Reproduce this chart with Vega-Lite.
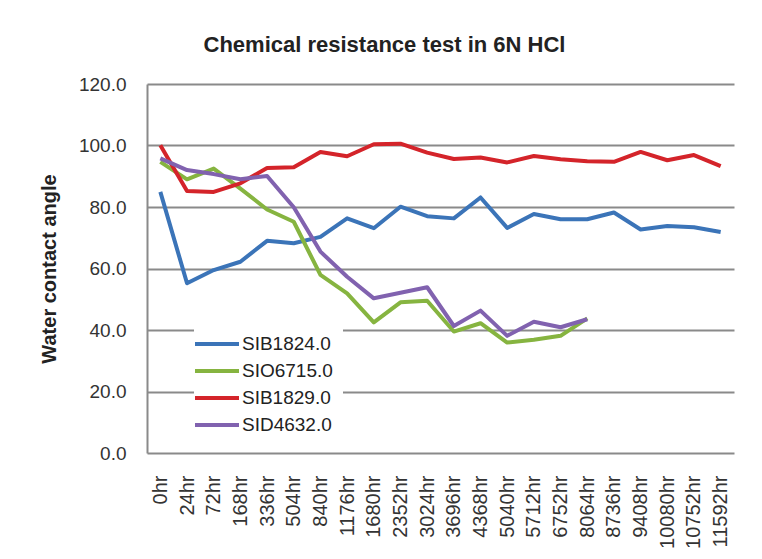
{
  "$schema": "https://vega.github.io/schema/vega-lite/v6.json",
  "autosize": {"type": "none"},
  "padding": {"left": 147, "top": 84, "right": 28, "bottom": 106},
  "width": 587,
  "height": 369,
  "background": "white",
  "title": {
    "text": "Chemical resistance test in 6N HCl",
    "font": "Liberation Sans",
    "fontSize": 22,
    "fontWeight": "bold",
    "color": "#222222",
    "anchor": "middle",
    "dx": -56,
    "offset": 18
  },
  "data": {
    "values": [
      {"t": "0hr", "s": "SIB1824.0", "v": 84.9},
      {"t": "24hr", "s": "SIB1824.0", "v": 55.2},
      {"t": "72hr", "s": "SIB1824.0", "v": 59.5},
      {"t": "168hr", "s": "SIB1824.0", "v": 62.2},
      {"t": "336hr", "s": "SIB1824.0", "v": 69.0},
      {"t": "504hr", "s": "SIB1824.0", "v": 68.2},
      {"t": "840hr", "s": "SIB1824.0", "v": 70.3},
      {"t": "1176hr", "s": "SIB1824.0", "v": 76.3},
      {"t": "1680hr", "s": "SIB1824.0", "v": 73.1},
      {"t": "2352hr", "s": "SIB1824.0", "v": 80.1},
      {"t": "3024hr", "s": "SIB1824.0", "v": 77.0},
      {"t": "3696hr", "s": "SIB1824.0", "v": 76.3},
      {"t": "4368hr", "s": "SIB1824.0", "v": 83.1},
      {"t": "5040hr", "s": "SIB1824.0", "v": 73.2},
      {"t": "5712hr", "s": "SIB1824.0", "v": 77.7},
      {"t": "6752hr", "s": "SIB1824.0", "v": 76.0},
      {"t": "8064hr", "s": "SIB1824.0", "v": 76.0},
      {"t": "8736hr", "s": "SIB1824.0", "v": 78.2},
      {"t": "9408hr", "s": "SIB1824.0", "v": 72.7},
      {"t": "10080hr", "s": "SIB1824.0", "v": 73.8},
      {"t": "10752hr", "s": "SIB1824.0", "v": 73.4},
      {"t": "11592hr", "s": "SIB1824.0", "v": 71.9},

      {"t": "0hr", "s": "SIO6715.0", "v": 94.7},
      {"t": "24hr", "s": "SIO6715.0", "v": 89.0},
      {"t": "72hr", "s": "SIO6715.0", "v": 92.5},
      {"t": "168hr", "s": "SIO6715.0", "v": 86.0},
      {"t": "336hr", "s": "SIO6715.0", "v": 79.2},
      {"t": "504hr", "s": "SIO6715.0", "v": 75.2},
      {"t": "840hr", "s": "SIO6715.0", "v": 57.9},
      {"t": "1176hr", "s": "SIO6715.0", "v": 51.9},
      {"t": "1680hr", "s": "SIO6715.0", "v": 42.5},
      {"t": "2352hr", "s": "SIO6715.0", "v": 49.0},
      {"t": "3024hr", "s": "SIO6715.0", "v": 49.5},
      {"t": "3696hr", "s": "SIO6715.0", "v": 39.5},
      {"t": "4368hr", "s": "SIO6715.0", "v": 42.2},
      {"t": "5040hr", "s": "SIO6715.0", "v": 35.9},
      {"t": "5712hr", "s": "SIO6715.0", "v": 36.8},
      {"t": "6752hr", "s": "SIO6715.0", "v": 38.1},
      {"t": "8064hr", "s": "SIO6715.0", "v": 43.8},

      {"t": "0hr", "s": "SIB1829.0", "v": 100.1},
      {"t": "24hr", "s": "SIB1829.0", "v": 85.2},
      {"t": "72hr", "s": "SIB1829.0", "v": 84.9},
      {"t": "168hr", "s": "SIB1829.0", "v": 87.7},
      {"t": "336hr", "s": "SIB1829.0", "v": 92.7},
      {"t": "504hr", "s": "SIB1829.0", "v": 92.9},
      {"t": "840hr", "s": "SIB1829.0", "v": 97.9},
      {"t": "1176hr", "s": "SIB1829.0", "v": 96.5},
      {"t": "1680hr", "s": "SIB1829.0", "v": 100.4},
      {"t": "2352hr", "s": "SIB1829.0", "v": 100.6},
      {"t": "3024hr", "s": "SIB1829.0", "v": 97.7},
      {"t": "3696hr", "s": "SIB1829.0", "v": 95.6},
      {"t": "4368hr", "s": "SIB1829.0", "v": 96.1},
      {"t": "5040hr", "s": "SIB1829.0", "v": 94.5},
      {"t": "5712hr", "s": "SIB1829.0", "v": 96.6},
      {"t": "6752hr", "s": "SIB1829.0", "v": 95.5},
      {"t": "8064hr", "s": "SIB1829.0", "v": 94.9},
      {"t": "8736hr", "s": "SIB1829.0", "v": 94.7},
      {"t": "9408hr", "s": "SIB1829.0", "v": 97.9},
      {"t": "10080hr", "s": "SIB1829.0", "v": 95.2},
      {"t": "10752hr", "s": "SIB1829.0", "v": 96.9},
      {"t": "11592hr", "s": "SIB1829.0", "v": 93.3},

      {"t": "0hr", "s": "SID4632.0", "v": 95.8},
      {"t": "24hr", "s": "SID4632.0", "v": 92.0},
      {"t": "72hr", "s": "SID4632.0", "v": 90.7},
      {"t": "168hr", "s": "SID4632.0", "v": 89.0},
      {"t": "336hr", "s": "SID4632.0", "v": 90.1},
      {"t": "504hr", "s": "SID4632.0", "v": 79.9},
      {"t": "840hr", "s": "SID4632.0", "v": 65.5},
      {"t": "1176hr", "s": "SID4632.0", "v": 57.3},
      {"t": "1680hr", "s": "SID4632.0", "v": 50.3},
      {"t": "2352hr", "s": "SID4632.0", "v": 52.1},
      {"t": "3024hr", "s": "SID4632.0", "v": 53.9},
      {"t": "3696hr", "s": "SID4632.0", "v": 41.3},
      {"t": "4368hr", "s": "SID4632.0", "v": 46.3},
      {"t": "5040hr", "s": "SID4632.0", "v": 38.1},
      {"t": "5712hr", "s": "SID4632.0", "v": 42.7},
      {"t": "6752hr", "s": "SID4632.0", "v": 40.9},
      {"t": "8064hr", "s": "SID4632.0", "v": 43.5}
    ]
  },
  "mark": {"type": "line", "strokeWidth": 4, "strokeJoin": "round"},
  "encoding": {
    "x": {
      "field": "t",
      "type": "ordinal",
      "scale": {
        "domain": ["0hr", "24hr", "72hr", "168hr", "336hr", "504hr", "840hr", "1176hr", "1680hr", "2352hr", "3024hr", "3696hr", "4368hr", "5040hr", "5712hr", "6752hr", "8064hr", "8736hr", "9408hr", "10080hr", "10752hr", "11592hr"],
        "type": "point",
        "padding": 0.5
      },
      "axis": {
        "title": null,
        "labelAngle": -90,
        "labelFont": "Liberation Sans",
        "labelFontSize": 20,
        "labelColor": "#333333",
        "labelPadding": 22,
        "ticks": false,
        "domain": false,
        "grid": false
      }
    },
    "y": {
      "field": "v",
      "type": "quantitative",
      "scale": {"domain": [0, 120]},
      "axis": {
        "title": "Water contact angle",
        "titleFont": "Liberation Sans",
        "titleFontSize": 20,
        "titleFontWeight": "bold",
        "titleColor": "#222222",
        "titlePadding": 19,
        "values": [0, 20, 40, 60, 80, 100, 120],
        "format": ".1f",
        "labelFont": "Liberation Sans",
        "labelFontSize": 19,
        "labelColor": "#333333",
        "labelPadding": 21,
        "ticks": false,
        "domainColor": "#8a8a8a",
        "domainWidth": 2,
        "gridColor": "#8a8a8a",
        "gridWidth": 2,
        "gridOpacity": 1
      }
    },
    "color": {
      "field": "s",
      "type": "nominal",
      "scale": {
        "domain": ["SIB1824.0", "SIO6715.0", "SIB1829.0", "SID4632.0"],
        "range": ["#3B74B8", "#86B440", "#D4242A", "#8162AF"]
      },
      "legend": {
        "title": null,
        "orient": "none",
        "legendX": 47,
        "legendY": 237,
        "fillColor": "white",
        "padding": 10,
        "symbolType": "M-2,0H2",
        "symbolSize": 484,
        "symbolStrokeWidth": 4,
        "labelFont": "Liberation Sans",
        "labelFontSize": 19,
        "labelColor": "#222222",
        "labelOffset": 12,
        "rowPadding": 4
      }
    }
  },
  "config": {"view": {"stroke": null}}
}
